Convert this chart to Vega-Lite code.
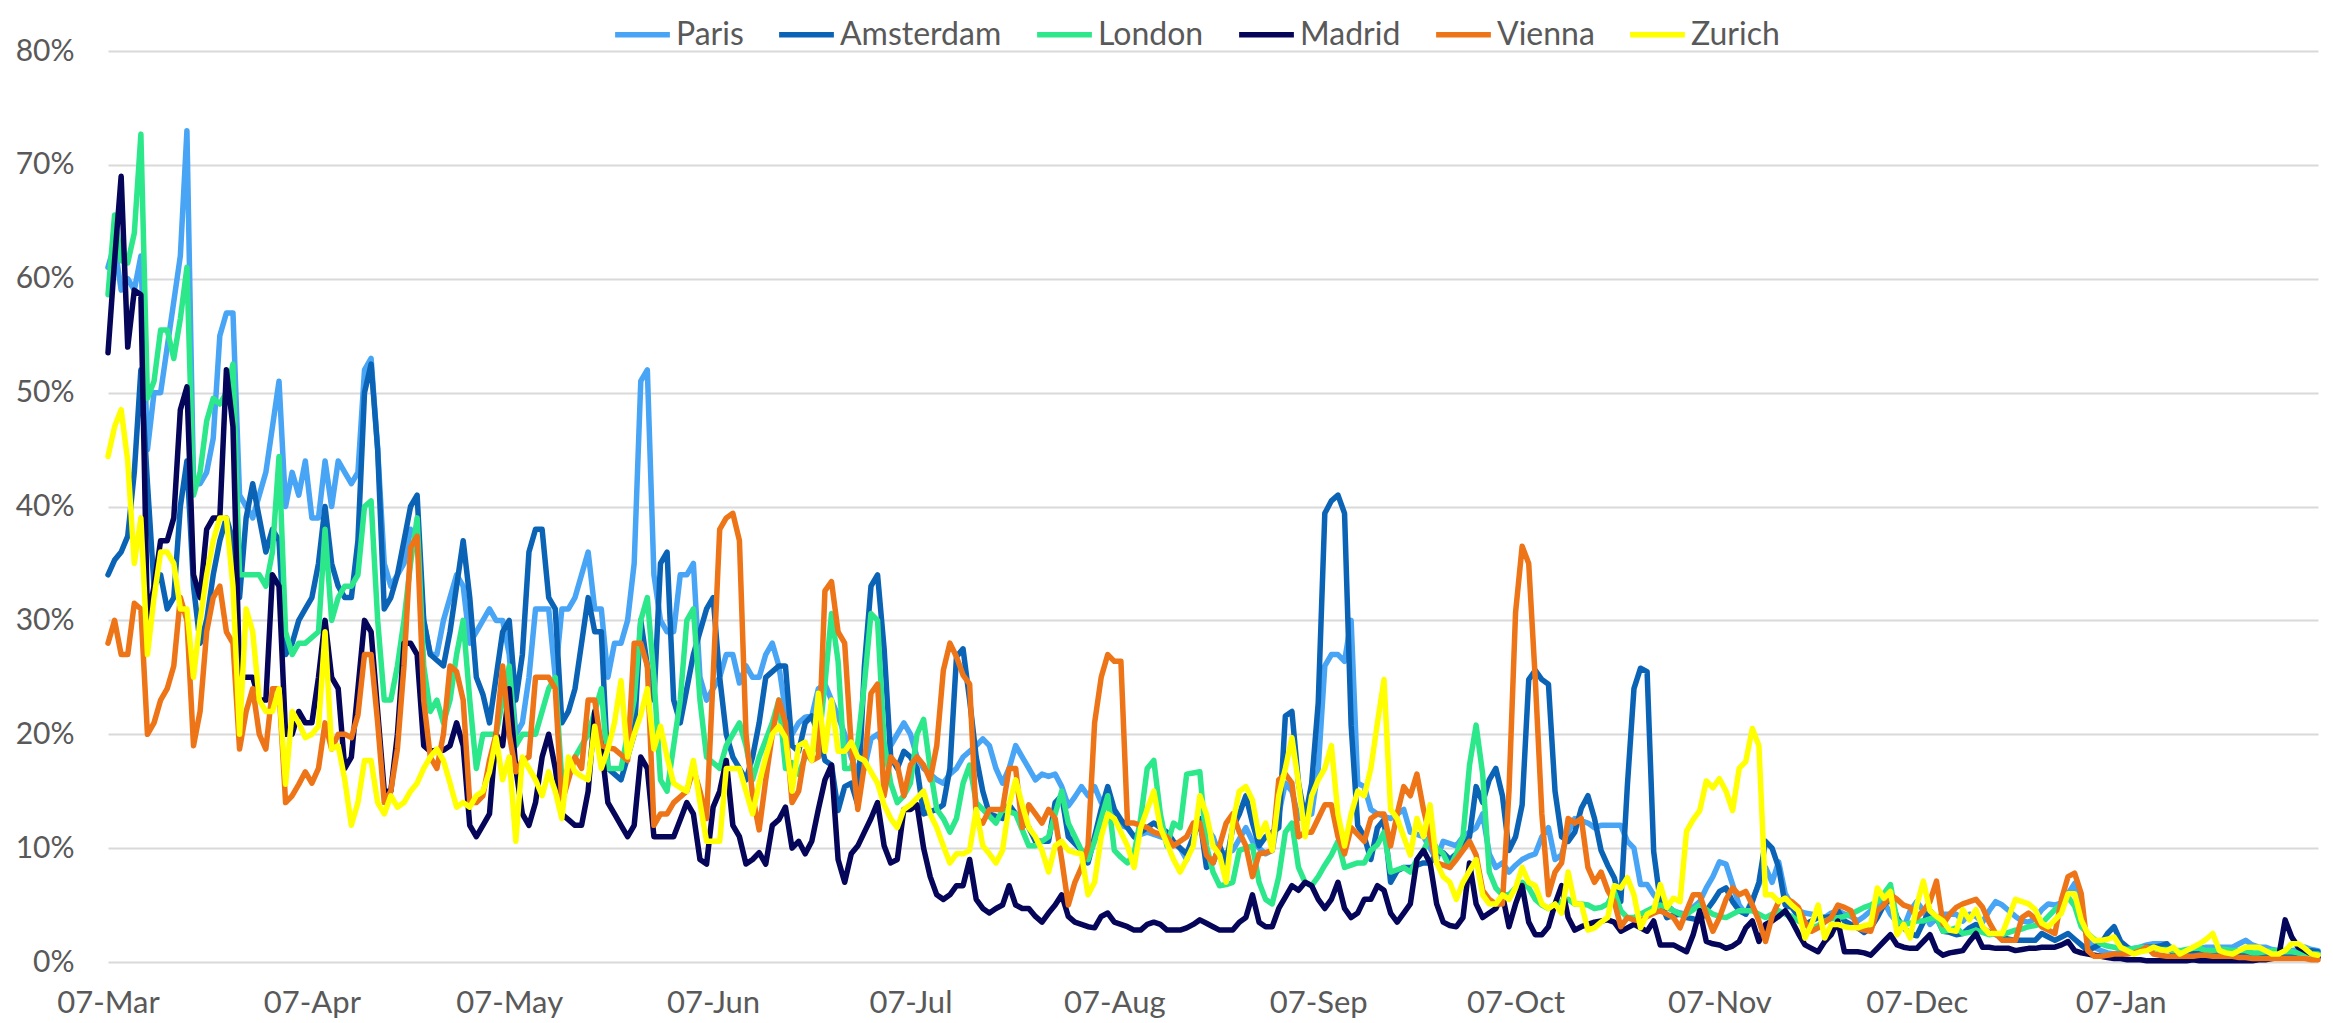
{
"$schema":"https://vega.github.io/schema/vega-lite/v6.json",
"width":2210,"height":911,
"autosize":{"type":"none"},
"padding":{"left":108,"top":51,"right":15,"bottom":61},
"background":"white",
"config":{"view":{"stroke":null},"font":"Lato"},
"data":{"values":[
{"d":"2020-03-07","Paris":61,"Amsterdam":34,"London":58.6,"Madrid":53.5,"Vienna":28,"Zurich":44.4},
{"d":"2020-03-08","Paris":63,"Amsterdam":35.3,"London":65.6,"Madrid":61.6,"Vienna":30,"Zurich":47},
{"d":"2020-03-09","Paris":59,"Amsterdam":36,"London":61.6,"Madrid":69,"Vienna":27,"Zurich":48.5},
{"d":"2020-03-10","Paris":60,"Amsterdam":37.4,"London":61.4,"Madrid":54,"Vienna":27,"Zurich":44},
{"d":"2020-03-11","Paris":59,"Amsterdam":43,"London":64,"Madrid":59,"Vienna":31.5,"Zurich":35},
{"d":"2020-03-12","Paris":62,"Amsterdam":52,"London":72.7,"Madrid":58.6,"Vienna":31,"Zurich":39},
{"d":"2020-03-13","Paris":45,"Amsterdam":42,"London":49.5,"Madrid":30,"Vienna":20,"Zurich":27},
{"d":"2020-03-14","Paris":50,"Amsterdam":33,"London":51,"Madrid":33,"Vienna":21,"Zurich":32},
{"d":"2020-03-15","Paris":50,"Amsterdam":34,"London":55.5,"Madrid":37,"Vienna":23,"Zurich":36},
{"d":"2020-03-16","Paris":54,"Amsterdam":31,"London":55.5,"Madrid":37,"Vienna":24,"Zurich":36},
{"d":"2020-03-17","Paris":58,"Amsterdam":32,"London":53,"Madrid":39,"Vienna":26,"Zurich":35},
{"d":"2020-03-18","Paris":62,"Amsterdam":40,"London":56.5,"Madrid":48.5,"Vienna":32,"Zurich":31},
{"d":"2020-03-19","Paris":73,"Amsterdam":44,"London":61,"Madrid":50.5,"Vienna":30,"Zurich":31},
{"d":"2020-03-20","Paris":42,"Amsterdam":33,"London":41,"Madrid":34,"Vienna":19,"Zurich":25},
{"d":"2020-03-21","Paris":42,"Amsterdam":28,"London":43,"Madrid":32,"Vienna":22,"Zurich":30},
{"d":"2020-03-22","Paris":43,"Amsterdam":30,"London":47.5,"Madrid":38,"Vienna":29,"Zurich":34},
{"d":"2020-03-23","Paris":46,"Amsterdam":34,"London":49.5,"Madrid":39,"Vienna":32,"Zurich":37},
{"d":"2020-03-24","Paris":55,"Amsterdam":37,"London":49,"Madrid":39,"Vienna":33,"Zurich":39},
{"d":"2020-03-25","Paris":57,"Amsterdam":39,"London":50,"Madrid":52,"Vienna":29,"Zurich":39},
{"d":"2020-03-26","Paris":57,"Amsterdam":37,"London":52.5,"Madrid":47,"Vienna":28,"Zurich":33},
{"d":"2020-03-27","Paris":41,"Amsterdam":32,"London":34,"Madrid":25,"Vienna":18.7,"Zurich":20},
{"d":"2020-03-28","Paris":40,"Amsterdam":39,"London":34,"Madrid":25,"Vienna":22,"Zurich":31},
{"d":"2020-03-29","Paris":39,"Amsterdam":42,"London":34,"Madrid":25,"Vienna":24,"Zurich":29},
{"d":"2020-03-30","Paris":41,"Amsterdam":39,"London":34,"Madrid":23,"Vienna":20,"Zurich":23},
{"d":"2020-03-31","Paris":43,"Amsterdam":36,"London":33,"Madrid":23,"Vienna":18.7,"Zurich":22},
{"d":"2020-04-01","Paris":47,"Amsterdam":38,"London":36,"Madrid":34,"Vienna":24,"Zurich":22},
{"d":"2020-04-02","Paris":51,"Amsterdam":37,"London":44.4,"Madrid":33,"Vienna":24,"Zurich":24},
{"d":"2020-04-03","Paris":40,"Amsterdam":27,"London":29,"Madrid":20,"Vienna":14,"Zurich":15.6},
{"d":"2020-04-04","Paris":43,"Amsterdam":28,"London":27,"Madrid":20,"Vienna":14.6,"Zurich":22},
{"d":"2020-04-05","Paris":41,"Amsterdam":30,"London":28,"Madrid":22,"Vienna":15.6,"Zurich":21},
{"d":"2020-04-06","Paris":44,"Amsterdam":31,"London":28,"Madrid":21,"Vienna":16.7,"Zurich":19.7},
{"d":"2020-04-07","Paris":39,"Amsterdam":32,"London":28.5,"Madrid":21,"Vienna":15.7,"Zurich":20},
{"d":"2020-04-08","Paris":39,"Amsterdam":35,"London":29,"Madrid":25,"Vienna":17,"Zurich":20.7},
{"d":"2020-04-09","Paris":44,"Amsterdam":40,"London":38,"Madrid":30,"Vienna":21,"Zurich":29},
{"d":"2020-04-10","Paris":40,"Amsterdam":35,"London":30,"Madrid":25,"Vienna":18.7,"Zurich":18.7},
{"d":"2020-04-11","Paris":44,"Amsterdam":33,"London":32,"Madrid":24,"Vienna":20,"Zurich":19},
{"d":"2020-04-12","Paris":43,"Amsterdam":32,"London":33,"Madrid":17,"Vienna":20,"Zurich":16},
{"d":"2020-04-13","Paris":42,"Amsterdam":32,"London":33,"Madrid":18,"Vienna":19.7,"Zurich":12},
{"d":"2020-04-14","Paris":43,"Amsterdam":37,"London":34,"Madrid":24,"Vienna":21.7,"Zurich":14},
{"d":"2020-04-15","Paris":52,"Amsterdam":50,"London":40,"Madrid":30,"Vienna":27,"Zurich":17.7},
{"d":"2020-04-16","Paris":53,"Amsterdam":52.5,"London":40.5,"Madrid":29,"Vienna":27,"Zurich":17.7},
{"d":"2020-04-17","Paris":45,"Amsterdam":45,"London":30,"Madrid":22,"Vienna":21,"Zurich":14},
{"d":"2020-04-18","Paris":35,"Amsterdam":31,"London":23,"Madrid":15,"Vienna":14,"Zurich":13},
{"d":"2020-04-19","Paris":33,"Amsterdam":32,"London":23,"Madrid":15,"Vienna":15,"Zurich":14.6},
{"d":"2020-04-20","Paris":34,"Amsterdam":34,"London":26,"Madrid":20,"Vienna":18.7,"Zurich":13.6},
{"d":"2020-04-21","Paris":35,"Amsterdam":37,"London":30,"Madrid":28,"Vienna":26,"Zurich":14},
{"d":"2020-04-22","Paris":38,"Amsterdam":40,"London":35,"Madrid":28,"Vienna":36.4,"Zurich":15},
{"d":"2020-04-23","Paris":37,"Amsterdam":41,"London":39,"Madrid":27,"Vienna":37.4,"Zurich":15.7},
{"d":"2020-04-24","Paris":30,"Amsterdam":30,"London":26,"Madrid":19,"Vienna":23,"Zurich":17},
{"d":"2020-04-25","Paris":27,"Amsterdam":27,"London":22,"Madrid":18.5,"Vienna":18,"Zurich":18},
{"d":"2020-04-26","Paris":27,"Amsterdam":26.5,"London":23,"Madrid":18.6,"Vienna":17,"Zurich":18.7},
{"d":"2020-04-27","Paris":30,"Amsterdam":26,"London":21,"Madrid":18.6,"Vienna":20,"Zurich":17.7},
{"d":"2020-04-28","Paris":32,"Amsterdam":29,"London":23,"Madrid":19,"Vienna":26,"Zurich":15.7},
{"d":"2020-04-29","Paris":34,"Amsterdam":33,"London":27,"Madrid":21,"Vienna":25.5,"Zurich":13.6},
{"d":"2020-04-30","Paris":33,"Amsterdam":37,"London":30,"Madrid":19,"Vienna":23,"Zurich":14},
{"d":"2020-05-01","Paris":28,"Amsterdam":32,"London":23,"Madrid":12,"Vienna":14,"Zurich":13.6},
{"d":"2020-05-02","Paris":29,"Amsterdam":25,"London":17,"Madrid":11,"Vienna":14,"Zurich":14.6},
{"d":"2020-05-03","Paris":30,"Amsterdam":23.5,"London":20,"Madrid":12,"Vienna":14.6,"Zurich":15},
{"d":"2020-05-04","Paris":31,"Amsterdam":21,"London":20,"Madrid":13,"Vienna":17.7,"Zurich":16.7},
{"d":"2020-05-05","Paris":30,"Amsterdam":25,"London":20,"Madrid":20,"Vienna":20,"Zurich":19.7},
{"d":"2020-05-06","Paris":30,"Amsterdam":29,"London":23,"Madrid":19,"Vienna":26,"Zurich":16},
{"d":"2020-05-07","Paris":27,"Amsterdam":30,"London":26,"Madrid":24,"Vienna":20,"Zurich":18},
{"d":"2020-05-08","Paris":20,"Amsterdam":23,"London":19,"Madrid":17,"Vienna":16.7,"Zurich":10.6},
{"d":"2020-05-09","Paris":21,"Amsterdam":27,"London":20,"Madrid":13,"Vienna":17.7,"Zurich":18},
{"d":"2020-05-10","Paris":25,"Amsterdam":36,"London":20,"Madrid":12,"Vienna":18,"Zurich":17},
{"d":"2020-05-11","Paris":31,"Amsterdam":38,"London":20,"Madrid":14,"Vienna":25,"Zurich":16},
{"d":"2020-05-12","Paris":31,"Amsterdam":38,"London":22,"Madrid":18,"Vienna":25,"Zurich":14.6},
{"d":"2020-05-13","Paris":31,"Amsterdam":32,"London":24,"Madrid":20,"Vienna":25,"Zurich":16.7},
{"d":"2020-05-14","Paris":25,"Amsterdam":31,"London":25,"Madrid":17,"Vienna":24,"Zurich":15},
{"d":"2020-05-15","Paris":31,"Amsterdam":21,"London":16,"Madrid":13,"Vienna":14,"Zurich":12.6},
{"d":"2020-05-16","Paris":31,"Amsterdam":22,"London":17,"Madrid":12.5,"Vienna":16,"Zurich":18},
{"d":"2020-05-17","Paris":32,"Amsterdam":24,"London":18,"Madrid":12,"Vienna":18,"Zurich":16.7},
{"d":"2020-05-18","Paris":34,"Amsterdam":28,"London":19,"Madrid":12,"Vienna":17,"Zurich":16.3},
{"d":"2020-05-19","Paris":36,"Amsterdam":32,"London":20,"Madrid":15,"Vienna":23,"Zurich":16},
{"d":"2020-05-20","Paris":31,"Amsterdam":29,"London":22,"Madrid":22,"Vienna":23,"Zurich":20.7},
{"d":"2020-05-21","Paris":31,"Amsterdam":29,"London":24,"Madrid":19,"Vienna":19,"Zurich":17},
{"d":"2020-05-22","Paris":25,"Amsterdam":17,"London":17,"Madrid":14,"Vienna":18.8,"Zurich":18.7},
{"d":"2020-05-23","Paris":28,"Amsterdam":16.5,"London":17,"Madrid":13,"Vienna":18.7,"Zurich":21},
{"d":"2020-05-24","Paris":28,"Amsterdam":16,"London":17,"Madrid":12,"Vienna":18.2,"Zurich":24.7},
{"d":"2020-05-25","Paris":30,"Amsterdam":18,"London":20,"Madrid":11,"Vienna":17.7,"Zurich":18},
{"d":"2020-05-26","Paris":35,"Amsterdam":20,"London":23,"Madrid":12,"Vienna":28,"Zurich":20},
{"d":"2020-05-27","Paris":51,"Amsterdam":30,"London":30,"Madrid":18,"Vienna":28,"Zurich":21.7},
{"d":"2020-05-28","Paris":52,"Amsterdam":26,"London":32,"Madrid":17,"Vienna":26,"Zurich":24},
{"d":"2020-05-29","Paris":34,"Amsterdam":23,"London":25,"Madrid":11,"Vienna":12,"Zurich":18.7},
{"d":"2020-05-30","Paris":30,"Amsterdam":35,"London":16,"Madrid":11,"Vienna":13,"Zurich":20.7},
{"d":"2020-05-31","Paris":29,"Amsterdam":36,"London":15,"Madrid":11,"Vienna":13,"Zurich":18},
{"d":"2020-06-01","Paris":29,"Amsterdam":23,"London":19,"Madrid":11,"Vienna":14,"Zurich":15.7},
{"d":"2020-06-02","Paris":34,"Amsterdam":21,"London":23,"Madrid":12.5,"Vienna":14.5,"Zurich":15.3},
{"d":"2020-06-03","Paris":34,"Amsterdam":24,"London":30,"Madrid":14,"Vienna":15,"Zurich":15},
{"d":"2020-06-04","Paris":35,"Amsterdam":27,"London":31,"Madrid":13,"Vienna":17,"Zurich":17.7},
{"d":"2020-06-05","Paris":25,"Amsterdam":29,"London":23,"Madrid":9,"Vienna":15,"Zurich":14},
{"d":"2020-06-06","Paris":23,"Amsterdam":31,"London":18,"Madrid":8.6,"Vienna":12.6,"Zurich":10.6},
{"d":"2020-06-07","Paris":24,"Amsterdam":32,"London":17.5,"Madrid":13.6,"Vienna":25,"Zurich":10.6},
{"d":"2020-06-08","Paris":25,"Amsterdam":25,"London":17,"Madrid":15,"Vienna":38,"Zurich":10.6},
{"d":"2020-06-09","Paris":27,"Amsterdam":20,"London":19,"Madrid":17.7,"Vienna":39,"Zurich":17},
{"d":"2020-06-10","Paris":27,"Amsterdam":18,"London":20,"Madrid":12,"Vienna":39.4,"Zurich":17},
{"d":"2020-06-11","Paris":24.5,"Amsterdam":17,"London":21,"Madrid":11,"Vienna":37,"Zurich":17},
{"d":"2020-06-12","Paris":26,"Amsterdam":16,"London":19,"Madrid":8.6,"Vienna":20,"Zurich":15},
{"d":"2020-06-13","Paris":25,"Amsterdam":18,"London":16,"Madrid":9,"Vienna":14.6,"Zurich":13},
{"d":"2020-06-14","Paris":25,"Amsterdam":21,"London":18,"Madrid":9.6,"Vienna":11.6,"Zurich":15.7},
{"d":"2020-06-15","Paris":27,"Amsterdam":25,"London":19.5,"Madrid":8.6,"Vienna":16,"Zurich":18},
{"d":"2020-06-16","Paris":28,"Amsterdam":25.5,"London":21,"Madrid":12,"Vienna":20,"Zurich":20},
{"d":"2020-06-17","Paris":26,"Amsterdam":26,"London":23,"Madrid":12.5,"Vienna":23,"Zurich":20.7},
{"d":"2020-06-18","Paris":22,"Amsterdam":26,"London":17,"Madrid":13.6,"Vienna":21,"Zurich":19.7},
{"d":"2020-06-19","Paris":20,"Amsterdam":19,"London":17.5,"Madrid":10,"Vienna":14,"Zurich":15},
{"d":"2020-06-20","Paris":21,"Amsterdam":18.5,"London":16.5,"Madrid":10.6,"Vienna":15,"Zurich":19},
{"d":"2020-06-21","Paris":21.5,"Amsterdam":21,"London":18,"Madrid":9.5,"Vienna":18.5,"Zurich":19.3},
{"d":"2020-06-22","Paris":21.6,"Amsterdam":21.6,"London":18.5,"Madrid":10.6,"Vienna":17.7,"Zurich":17.7},
{"d":"2020-06-23","Paris":24,"Amsterdam":20,"London":19,"Madrid":13.4,"Vienna":18,"Zurich":23.6},
{"d":"2020-06-24","Paris":24.4,"Amsterdam":17.7,"London":24.4,"Madrid":16,"Vienna":32.6,"Zurich":18.5},
{"d":"2020-06-25","Paris":23,"Amsterdam":17.3,"London":30.6,"Madrid":17.3,"Vienna":33.4,"Zurich":23},
{"d":"2020-06-26","Paris":21.6,"Amsterdam":13.3,"London":26.4,"Madrid":9,"Vienna":29,"Zurich":18.5},
{"d":"2020-06-27","Paris":20,"Amsterdam":15.4,"London":17,"Madrid":7,"Vienna":28,"Zurich":18.5},
{"d":"2020-06-28","Paris":18,"Amsterdam":15.7,"London":17,"Madrid":9.5,"Vienna":19,"Zurich":19.3},
{"d":"2020-06-29","Paris":16.5,"Amsterdam":13.8,"London":19.3,"Madrid":10.2,"Vienna":13.4,"Zurich":18},
{"d":"2020-06-30","Paris":17,"Amsterdam":26,"London":24.4,"Madrid":11.4,"Vienna":17.3,"Zurich":17.7},
{"d":"2020-07-01","Paris":19.6,"Amsterdam":33,"London":30.6,"Madrid":12.6,"Vienna":23.6,"Zurich":16.7},
{"d":"2020-07-02","Paris":20,"Amsterdam":34,"London":30,"Madrid":14,"Vienna":24.4,"Zurich":15.7},
{"d":"2020-07-03","Paris":19,"Amsterdam":27.5,"London":19.3,"Madrid":10.2,"Vienna":14.6,"Zurich":13.8},
{"d":"2020-07-04","Paris":19,"Amsterdam":18,"London":15.7,"Madrid":8.7,"Vienna":18,"Zurich":12.6},
{"d":"2020-07-05","Paris":20,"Amsterdam":17,"London":14,"Madrid":9,"Vienna":17.3,"Zurich":11.8},
{"d":"2020-07-06","Paris":21,"Amsterdam":18.5,"London":14.6,"Madrid":13.4,"Vienna":14.6,"Zurich":13.4},
{"d":"2020-07-07","Paris":20,"Amsterdam":18,"London":15.7,"Madrid":13.4,"Vienna":17.3,"Zurich":13.8},
{"d":"2020-07-08","Paris":18,"Amsterdam":17,"London":20,"Madrid":13.8,"Vienna":18,"Zurich":14.4},
{"d":"2020-07-09","Paris":17,"Amsterdam":13,"London":21.3,"Madrid":10,"Vienna":17.3,"Zurich":15},
{"d":"2020-07-10","Paris":16.5,"Amsterdam":13.2,"London":17,"Madrid":7.5,"Vienna":16,"Zurich":13},
{"d":"2020-07-11","Paris":16,"Amsterdam":13.4,"London":13.4,"Madrid":5.9,"Vienna":19,"Zurich":11.8},
{"d":"2020-07-12","Paris":15.7,"Amsterdam":13.8,"London":12.6,"Madrid":5.5,"Vienna":25.6,"Zurich":10.2},
{"d":"2020-07-13","Paris":16.5,"Amsterdam":17,"London":11.4,"Madrid":5.9,"Vienna":28,"Zurich":8.7},
{"d":"2020-07-14","Paris":17,"Amsterdam":26.8,"London":12.6,"Madrid":6.7,"Vienna":26.8,"Zurich":9.5},
{"d":"2020-07-15","Paris":18,"Amsterdam":27.5,"London":15.7,"Madrid":6.7,"Vienna":25.2,"Zurich":9.5},
{"d":"2020-07-16","Paris":18.5,"Amsterdam":23,"London":17.3,"Madrid":9,"Vienna":24.4,"Zurich":9.8},
{"d":"2020-07-17","Paris":19,"Amsterdam":18,"London":14,"Madrid":5.5,"Vienna":12.6,"Zurich":13.4},
{"d":"2020-07-18","Paris":19.6,"Amsterdam":15,"London":13.4,"Madrid":4.7,"Vienna":12.2,"Zurich":10.2},
{"d":"2020-07-19","Paris":19,"Amsterdam":13,"London":12.8,"Madrid":4.3,"Vienna":13.4,"Zurich":9.5},
{"d":"2020-07-20","Paris":17,"Amsterdam":12.8,"London":12.2,"Madrid":4.7,"Vienna":13.4,"Zurich":8.7},
{"d":"2020-07-21","Paris":15.7,"Amsterdam":12.6,"London":13.4,"Madrid":5,"Vienna":13.4,"Zurich":9.8},
{"d":"2020-07-22","Paris":17,"Amsterdam":13.8,"London":13.2,"Madrid":6.7,"Vienna":17,"Zurich":13.8},
{"d":"2020-07-23","Paris":19,"Amsterdam":13,"London":13,"Madrid":5,"Vienna":17,"Zurich":16},
{"d":"2020-07-24","Paris":18,"Amsterdam":12.6,"London":11.6,"Madrid":4.7,"Vienna":11.8,"Zurich":13.8},
{"d":"2020-07-25","Paris":17,"Amsterdam":11.8,"London":10.2,"Madrid":4.7,"Vienna":13.8,"Zurich":11.8},
{"d":"2020-07-26","Paris":16,"Amsterdam":10.6,"London":10.2,"Madrid":4,"Vienna":13,"Zurich":11},
{"d":"2020-07-27","Paris":16.5,"Amsterdam":10.6,"London":10.6,"Madrid":3.5,"Vienna":12.2,"Zurich":9.8},
{"d":"2020-07-28","Paris":16.3,"Amsterdam":10.6,"London":11,"Madrid":4.3,"Vienna":13.4,"Zurich":7.9},
{"d":"2020-07-29","Paris":16.5,"Amsterdam":14,"London":13,"Madrid":5,"Vienna":12.6,"Zurich":10.2},
{"d":"2020-07-30","Paris":15.4,"Amsterdam":14.6,"London":15,"Madrid":5.9,"Vienna":9,"Zurich":10.6},
{"d":"2020-07-31","Paris":13.7,"Amsterdam":11,"London":12.2,"Madrid":4,"Vienna":5,"Zurich":9.8},
{"d":"2020-08-01","Paris":14.5,"Amsterdam":10.4,"London":11,"Madrid":3.5,"Vienna":7,"Zurich":9.6},
{"d":"2020-08-02","Paris":15.4,"Amsterdam":9.8,"London":9.8,"Madrid":3.3,"Vienna":8.3,"Zurich":9.5},
{"d":"2020-08-03","Paris":14.6,"Amsterdam":8.7,"London":9,"Madrid":3.1,"Vienna":10.2,"Zurich":5.9},
{"d":"2020-08-04","Paris":15.4,"Amsterdam":11,"London":10.6,"Madrid":3,"Vienna":21,"Zurich":7},
{"d":"2020-08-05","Paris":14,"Amsterdam":13.4,"London":12.6,"Madrid":4,"Vienna":25,"Zurich":11},
{"d":"2020-08-06","Paris":14.6,"Amsterdam":15.4,"London":14.6,"Madrid":4.3,"Vienna":27,"Zurich":13},
{"d":"2020-08-07","Paris":12.6,"Amsterdam":13.4,"London":9.8,"Madrid":3.5,"Vienna":26.4,"Zurich":12.6},
{"d":"2020-08-08","Paris":12,"Amsterdam":12.5,"London":9.2,"Madrid":3.3,"Vienna":26.4,"Zurich":11.4},
{"d":"2020-08-09","Paris":11.8,"Amsterdam":11.8,"London":8.7,"Madrid":3.1,"Vienna":12.2,"Zurich":10.2},
{"d":"2020-08-10","Paris":11,"Amsterdam":11,"London":9.5,"Madrid":2.8,"Vienna":12.2,"Zurich":8.3},
{"d":"2020-08-11","Paris":11.2,"Amsterdam":11.4,"London":12.6,"Madrid":2.8,"Vienna":12,"Zurich":11.8},
{"d":"2020-08-12","Paris":11.4,"Amsterdam":11.8,"London":17,"Madrid":3.3,"Vienna":11.8,"Zurich":13.4},
{"d":"2020-08-13","Paris":11.2,"Amsterdam":12.2,"London":17.7,"Madrid":3.5,"Vienna":11.4,"Zurich":15},
{"d":"2020-08-14","Paris":11,"Amsterdam":11.8,"London":13,"Madrid":3.3,"Vienna":11.2,"Zurich":11.8},
{"d":"2020-08-15","Paris":10.8,"Amsterdam":11.4,"London":10.2,"Madrid":2.8,"Vienna":11,"Zurich":10.4},
{"d":"2020-08-16","Paris":10.4,"Amsterdam":10.6,"London":12.2,"Madrid":2.8,"Vienna":10.2,"Zurich":9},
{"d":"2020-08-17","Paris":10,"Amsterdam":10,"London":11.8,"Madrid":2.8,"Vienna":10.6,"Zurich":7.9},
{"d":"2020-08-18","Paris":9,"Amsterdam":9.5,"London":16.5,"Madrid":3,"Vienna":11,"Zurich":9},
{"d":"2020-08-19","Paris":10.8,"Amsterdam":11,"London":16.6,"Madrid":3.3,"Vienna":12.2,"Zurich":10.2},
{"d":"2020-08-20","Paris":12.6,"Amsterdam":12.6,"London":16.7,"Madrid":3.7,"Vienna":12.2,"Zurich":14.6},
{"d":"2020-08-21","Paris":11.8,"Amsterdam":8.3,"London":10.2,"Madrid":3.4,"Vienna":9.4,"Zurich":13},
{"d":"2020-08-22","Paris":11,"Amsterdam":8.7,"London":7.9,"Madrid":3.1,"Vienna":8.7,"Zurich":10.2},
{"d":"2020-08-23","Paris":9.4,"Amsterdam":10.2,"London":6.7,"Madrid":2.8,"Vienna":10.2,"Zurich":9.4},
{"d":"2020-08-24","Paris":9.6,"Amsterdam":8.7,"London":6.8,"Madrid":2.8,"Vienna":12.2,"Zurich":7},
{"d":"2020-08-25","Paris":9.8,"Amsterdam":11.8,"London":7,"Madrid":2.8,"Vienna":13,"Zurich":12.2},
{"d":"2020-08-26","Paris":10.8,"Amsterdam":13,"London":9.8,"Madrid":3.5,"Vienna":11.4,"Zurich":15},
{"d":"2020-08-27","Paris":11.8,"Amsterdam":14.6,"London":10,"Madrid":3.9,"Vienna":10.2,"Zurich":15.4},
{"d":"2020-08-28","Paris":10.6,"Amsterdam":12.2,"London":10.2,"Madrid":5.9,"Vienna":7.5,"Zurich":14.2},
{"d":"2020-08-29","Paris":10,"Amsterdam":10.2,"London":7,"Madrid":3.5,"Vienna":9.5,"Zurich":11},
{"d":"2020-08-30","Paris":9.5,"Amsterdam":11,"London":5.5,"Madrid":3.1,"Vienna":9.6,"Zurich":12.2},
{"d":"2020-08-31","Paris":9.8,"Amsterdam":11.4,"London":5.1,"Madrid":3.1,"Vienna":9.8,"Zurich":9.8},
{"d":"2020-09-01","Paris":13,"Amsterdam":11.8,"London":7.5,"Madrid":4.7,"Vienna":16,"Zurich":14.6},
{"d":"2020-09-02","Paris":15.7,"Amsterdam":21.6,"London":11.4,"Madrid":5.7,"Vienna":16.5,"Zurich":17},
{"d":"2020-09-03","Paris":15,"Amsterdam":22,"London":12.2,"Madrid":6.7,"Vienna":15.7,"Zurich":19.7},
{"d":"2020-09-04","Paris":12.6,"Amsterdam":15.7,"London":8.3,"Madrid":6.3,"Vienna":11,"Zurich":15.7},
{"d":"2020-09-05","Paris":12.8,"Amsterdam":12.6,"London":7,"Madrid":7,"Vienna":11.4,"Zurich":11},
{"d":"2020-09-06","Paris":13,"Amsterdam":15.7,"London":6.7,"Madrid":6.7,"Vienna":11.4,"Zurich":14.6},
{"d":"2020-09-07","Paris":17,"Amsterdam":22.8,"London":7.5,"Madrid":5.5,"Vienna":12.6,"Zurich":16},
{"d":"2020-09-08","Paris":26,"Amsterdam":39.4,"London":8.5,"Madrid":4.7,"Vienna":13.8,"Zurich":17},
{"d":"2020-09-09","Paris":27,"Amsterdam":40.5,"London":9.4,"Madrid":5.5,"Vienna":13.8,"Zurich":19},
{"d":"2020-09-10","Paris":27,"Amsterdam":41,"London":10.6,"Madrid":7,"Vienna":11,"Zurich":13},
{"d":"2020-09-11","Paris":26.4,"Amsterdam":39.4,"London":8.3,"Madrid":4.7,"Vienna":9.5,"Zurich":10.2},
{"d":"2020-09-12","Paris":30,"Amsterdam":20.8,"London":8.5,"Madrid":3.9,"Vienna":11.8,"Zurich":13},
{"d":"2020-09-13","Paris":15.7,"Amsterdam":12,"London":8.7,"Madrid":4.3,"Vienna":11.2,"Zurich":15},
{"d":"2020-09-14","Paris":15.4,"Amsterdam":11,"London":8.7,"Madrid":5.5,"Vienna":10.6,"Zurich":14.6},
{"d":"2020-09-15","Paris":13.4,"Amsterdam":9,"London":9.8,"Madrid":5.5,"Vienna":12.6,"Zurich":17},
{"d":"2020-09-16","Paris":13,"Amsterdam":11.8,"London":10.3,"Madrid":6.7,"Vienna":13,"Zurich":21},
{"d":"2020-09-17","Paris":12.8,"Amsterdam":12.5,"London":11.4,"Madrid":6.3,"Vienna":13,"Zurich":24.8},
{"d":"2020-09-18","Paris":12.6,"Amsterdam":7,"London":7.9,"Madrid":4.3,"Vienna":10.2,"Zurich":13.4},
{"d":"2020-09-19","Paris":13,"Amsterdam":8,"London":8.1,"Madrid":3.5,"Vienna":13,"Zurich":12.6},
{"d":"2020-09-20","Paris":13.4,"Amsterdam":8.3,"London":8.3,"Madrid":4.3,"Vienna":15.4,"Zurich":11},
{"d":"2020-09-21","Paris":11.4,"Amsterdam":8.3,"London":7.9,"Madrid":5.1,"Vienna":14.6,"Zurich":9.4},
{"d":"2020-09-22","Paris":11.2,"Amsterdam":8.5,"London":9,"Madrid":9,"Vienna":16.5,"Zurich":12.6},
{"d":"2020-09-23","Paris":11,"Amsterdam":8.7,"London":9.8,"Madrid":9.8,"Vienna":13.4,"Zurich":11},
{"d":"2020-09-24","Paris":10,"Amsterdam":8.7,"London":11,"Madrid":8.7,"Vienna":11,"Zurich":13.8},
{"d":"2020-09-25","Paris":9,"Amsterdam":9.5,"London":10,"Madrid":5.1,"Vienna":8.7,"Zurich":8.7},
{"d":"2020-09-26","Paris":10.6,"Amsterdam":9.6,"London":9.5,"Madrid":3.5,"Vienna":8.5,"Zurich":7.5},
{"d":"2020-09-27","Paris":10.4,"Amsterdam":9,"London":8.3,"Madrid":3.2,"Vienna":8.3,"Zurich":7},
{"d":"2020-09-28","Paris":10.2,"Amsterdam":9.5,"London":9.5,"Madrid":3.1,"Vienna":9,"Zurich":5.5},
{"d":"2020-09-29","Paris":11,"Amsterdam":10,"London":11,"Madrid":3.9,"Vienna":9.8,"Zurich":7},
{"d":"2020-09-30","Paris":11.4,"Amsterdam":11,"London":17.3,"Madrid":8.7,"Vienna":10.6,"Zurich":8},
{"d":"2020-10-01","Paris":11.8,"Amsterdam":15.4,"London":20.8,"Madrid":5.1,"Vienna":9.4,"Zurich":9},
{"d":"2020-10-02","Paris":13,"Amsterdam":14,"London":16.5,"Madrid":3.9,"Vienna":6.3,"Zurich":5.9},
{"d":"2020-10-03","Paris":9.5,"Amsterdam":16,"London":7.9,"Madrid":4.3,"Vienna":5.5,"Zurich":5.1},
{"d":"2020-10-04","Paris":8.3,"Amsterdam":17,"London":6.5,"Madrid":4.7,"Vienna":5.1,"Zurich":5.1},
{"d":"2020-10-05","Paris":8.7,"Amsterdam":14.6,"London":5.9,"Madrid":5.9,"Vienna":5.1,"Zurich":5.9},
{"d":"2020-10-06","Paris":7.9,"Amsterdam":9.8,"London":5.9,"Madrid":3.1,"Vienna":15,"Zurich":5.5},
{"d":"2020-10-07","Paris":8.5,"Amsterdam":11,"London":6.5,"Madrid":5.1,"Vienna":30.7,"Zurich":6.5},
{"d":"2020-10-08","Paris":9,"Amsterdam":13.8,"London":7,"Madrid":6.7,"Vienna":36.5,"Zurich":8.3},
{"d":"2020-10-09","Paris":9.3,"Amsterdam":24.8,"London":6.5,"Madrid":3.5,"Vienna":35,"Zurich":7},
{"d":"2020-10-10","Paris":9.5,"Amsterdam":25.6,"London":5.5,"Madrid":2.4,"Vienna":24.8,"Zurich":6.7},
{"d":"2020-10-11","Paris":11,"Amsterdam":24.8,"London":5,"Madrid":2.4,"Vienna":13,"Zurich":5.1},
{"d":"2020-10-12","Paris":11.8,"Amsterdam":24.4,"London":4.7,"Madrid":3.1,"Vienna":5.9,"Zurich":4.7},
{"d":"2020-10-13","Paris":9,"Amsterdam":15,"London":5.1,"Madrid":5.1,"Vienna":7.9,"Zurich":5.1},
{"d":"2020-10-14","Paris":9.4,"Amsterdam":11,"London":5.3,"Madrid":6.7,"Vienna":8.7,"Zurich":4.3},
{"d":"2020-10-15","Paris":11.4,"Amsterdam":10.6,"London":5.5,"Madrid":3.9,"Vienna":12.6,"Zurich":7.9},
{"d":"2020-10-16","Paris":12.6,"Amsterdam":11.4,"London":5.1,"Madrid":2.8,"Vienna":12.2,"Zurich":5.1},
{"d":"2020-10-17","Paris":12.4,"Amsterdam":13.5,"London":5.1,"Madrid":3.1,"Vienna":12.6,"Zurich":5.1},
{"d":"2020-10-18","Paris":12.2,"Amsterdam":14.6,"London":5,"Madrid":3.3,"Vienna":8.3,"Zurich":2.8},
{"d":"2020-10-19","Paris":11.8,"Amsterdam":12.6,"London":4.7,"Madrid":3.5,"Vienna":7,"Zurich":3},
{"d":"2020-10-20","Paris":12,"Amsterdam":9.8,"London":4.8,"Madrid":3.6,"Vienna":7.9,"Zurich":3.5},
{"d":"2020-10-21","Paris":12,"Amsterdam":8.5,"London":5.1,"Madrid":3.7,"Vienna":6.3,"Zurich":3.9},
{"d":"2020-10-22","Paris":12,"Amsterdam":7.4,"London":6.2,"Madrid":3.5,"Vienna":5.3,"Zurich":6.7},
{"d":"2020-10-23","Paris":12,"Amsterdam":5.3,"London":4.5,"Madrid":2.7,"Vienna":3.1,"Zurich":6.5},
{"d":"2020-10-24","Paris":10.6,"Amsterdam":15.5,"London":3.9,"Madrid":3,"Vienna":3.9,"Zurich":7.4},
{"d":"2020-10-25","Paris":10,"Amsterdam":24,"London":3.9,"Madrid":3.3,"Vienna":3.7,"Zurich":5.9},
{"d":"2020-10-26","Paris":6.8,"Amsterdam":25.8,"London":4.2,"Madrid":3,"Vienna":3.6,"Zurich":3},
{"d":"2020-10-27","Paris":6.8,"Amsterdam":25.5,"London":4.5,"Madrid":2.7,"Vienna":4,"Zurich":4.2},
{"d":"2020-10-28","Paris":5.9,"Amsterdam":9.7,"London":4.8,"Madrid":3.6,"Vienna":4.3,"Zurich":4.5},
{"d":"2020-10-29","Paris":5.3,"Amsterdam":5.3,"London":5,"Madrid":1.5,"Vienna":4.5,"Zurich":6.8},
{"d":"2020-10-30","Paris":5,"Amsterdam":3.9,"London":4.8,"Madrid":1.5,"Vienna":4.2,"Zurich":4.8},
{"d":"2020-10-31","Paris":4.5,"Amsterdam":4.1,"London":4.5,"Madrid":1.5,"Vienna":3.9,"Zurich":5.6},
{"d":"2020-11-01","Paris":4.3,"Amsterdam":4.2,"London":4.2,"Madrid":1.2,"Vienna":3,"Zurich":5.3},
{"d":"2020-11-02","Paris":4.2,"Amsterdam":3.9,"London":4.2,"Madrid":0.9,"Vienna":4.5,"Zurich":11.5},
{"d":"2020-11-03","Paris":4.8,"Amsterdam":3.8,"London":4.6,"Madrid":2.4,"Vienna":5.9,"Zurich":12.5},
{"d":"2020-11-04","Paris":5.3,"Amsterdam":3.6,"London":5,"Madrid":4.5,"Vienna":5.9,"Zurich":13.3},
{"d":"2020-11-05","Paris":6.5,"Amsterdam":4.5,"London":4.6,"Madrid":1.8,"Vienna":4.2,"Zurich":15.9},
{"d":"2020-11-06","Paris":7.5,"Amsterdam":5.3,"London":4.2,"Madrid":1.6,"Vienna":2.7,"Zurich":15.3},
{"d":"2020-11-07","Paris":8.8,"Amsterdam":6.2,"London":4,"Madrid":1.5,"Vienna":3.9,"Zurich":16.1},
{"d":"2020-11-08","Paris":8.6,"Amsterdam":6.5,"London":3.9,"Madrid":1.2,"Vienna":5.5,"Zurich":15},
{"d":"2020-11-09","Paris":6.8,"Amsterdam":5.3,"London":4.2,"Madrid":1.4,"Vienna":6.5,"Zurich":13.3},
{"d":"2020-11-10","Paris":5,"Amsterdam":4.5,"London":4.5,"Madrid":1.8,"Vienna":5.9,"Zurich":17},
{"d":"2020-11-11","Paris":4.2,"Amsterdam":4.2,"London":4.5,"Madrid":3,"Vienna":6.2,"Zurich":17.6},
{"d":"2020-11-12","Paris":5.5,"Amsterdam":5.3,"London":4.5,"Madrid":3.6,"Vienna":5,"Zurich":20.5},
{"d":"2020-11-13","Paris":6.8,"Amsterdam":7,"London":4.2,"Madrid":1.8,"Vienna":3.6,"Zurich":19},
{"d":"2020-11-14","Paris":8.3,"Amsterdam":10.6,"London":3.9,"Madrid":3.3,"Vienna":1.8,"Zurich":5.9},
{"d":"2020-11-15","Paris":7,"Amsterdam":10,"London":4.2,"Madrid":3.6,"Vienna":4,"Zurich":5.9},
{"d":"2020-11-16","Paris":8.8,"Amsterdam":8.3,"London":4.5,"Madrid":4,"Vienna":5.3,"Zurich":5.3},
{"d":"2020-11-17","Paris":6,"Amsterdam":5,"London":4.2,"Madrid":4.5,"Vienna":5.6,"Zurich":5.6},
{"d":"2020-11-18","Paris":5,"Amsterdam":4.8,"London":4,"Madrid":3.6,"Vienna":5.3,"Zurich":5},
{"d":"2020-11-19","Paris":4.5,"Amsterdam":4,"London":3.6,"Madrid":2.5,"Vienna":4.8,"Zurich":4.5},
{"d":"2020-11-20","Paris":4.3,"Amsterdam":3.3,"London":3.3,"Madrid":1.5,"Vienna":3.5,"Zurich":2.1},
{"d":"2020-11-21","Paris":4.2,"Amsterdam":3.6,"London":3,"Madrid":1.2,"Vienna":2.7,"Zurich":3.3},
{"d":"2020-11-22","Paris":4,"Amsterdam":3.9,"London":3.2,"Madrid":0.9,"Vienna":3,"Zurich":5},
{"d":"2020-11-23","Paris":3.9,"Amsterdam":3.9,"London":3.6,"Madrid":1.8,"Vienna":3.5,"Zurich":2.1},
{"d":"2020-11-24","Paris":4.3,"Amsterdam":4,"London":3.8,"Madrid":2.4,"Vienna":3.9,"Zurich":3.3},
{"d":"2020-11-25","Paris":4.5,"Amsterdam":4.5,"London":3.9,"Madrid":3.6,"Vienna":5,"Zurich":3.3},
{"d":"2020-11-26","Paris":4.2,"Amsterdam":3.6,"London":4,"Madrid":0.9,"Vienna":4.8,"Zurich":3.1},
{"d":"2020-11-27","Paris":4,"Amsterdam":3.3,"London":4.2,"Madrid":0.9,"Vienna":4.5,"Zurich":3},
{"d":"2020-11-28","Paris":3.6,"Amsterdam":3,"London":4.5,"Madrid":0.9,"Vienna":3,"Zurich":3},
{"d":"2020-11-29","Paris":4,"Amsterdam":2.6,"London":4.8,"Madrid":0.8,"Vienna":2.8,"Zurich":3.2},
{"d":"2020-11-30","Paris":4.5,"Amsterdam":3,"London":5,"Madrid":0.6,"Vienna":2.7,"Zurich":3.3},
{"d":"2020-12-01","Paris":5,"Amsterdam":3.9,"London":5.3,"Madrid":1.2,"Vienna":4.5,"Zurich":6.5},
{"d":"2020-12-02","Paris":5.3,"Amsterdam":5,"London":6,"Madrid":1.8,"Vienna":5,"Zurich":5.6},
{"d":"2020-12-03","Paris":4.2,"Amsterdam":5.6,"London":6.8,"Madrid":2.4,"Vienna":5.9,"Zurich":6.2},
{"d":"2020-12-04","Paris":3.5,"Amsterdam":3.9,"London":3.6,"Madrid":1.5,"Vienna":5.5,"Zurich":2.4},
{"d":"2020-12-05","Paris":3,"Amsterdam":3,"London":3.3,"Madrid":1.3,"Vienna":5,"Zurich":3.3},
{"d":"2020-12-06","Paris":4.5,"Amsterdam":2.5,"London":3.4,"Madrid":1.2,"Vienna":4.8,"Zurich":2.1},
{"d":"2020-12-07","Paris":5.3,"Amsterdam":2.3,"London":3.6,"Madrid":1.2,"Vienna":3.9,"Zurich":5},
{"d":"2020-12-08","Paris":4.5,"Amsterdam":3.5,"London":3.6,"Madrid":1.8,"Vienna":4.5,"Zurich":7.1},
{"d":"2020-12-09","Paris":3.3,"Amsterdam":4.5,"London":3.8,"Madrid":2.4,"Vienna":5.3,"Zurich":4.5},
{"d":"2020-12-10","Paris":3.8,"Amsterdam":3.9,"London":3.9,"Madrid":1,"Vienna":7.1,"Zurich":4},
{"d":"2020-12-11","Paris":4.2,"Amsterdam":2.7,"London":2.7,"Madrid":0.6,"Vienna":3.3,"Zurich":3.6},
{"d":"2020-12-12","Paris":4.2,"Amsterdam":2.6,"London":2.8,"Madrid":0.8,"Vienna":4.2,"Zurich":2.8},
{"d":"2020-12-13","Paris":4.2,"Amsterdam":2.4,"London":3,"Madrid":0.9,"Vienna":4.8,"Zurich":2.7},
{"d":"2020-12-14","Paris":3.6,"Amsterdam":2.5,"London":2.5,"Madrid":1,"Vienna":5.1,"Zurich":4.6},
{"d":"2020-12-15","Paris":4.2,"Amsterdam":3,"London":2.6,"Madrid":1.8,"Vienna":5.3,"Zurich":3.7},
{"d":"2020-12-16","Paris":4,"Amsterdam":3.3,"London":2.8,"Madrid":2.5,"Vienna":5.5,"Zurich":4.6},
{"d":"2020-12-17","Paris":3.5,"Amsterdam":3,"London":2.6,"Madrid":1.3,"Vienna":4.8,"Zurich":3.1},
{"d":"2020-12-18","Paris":4.5,"Amsterdam":2.6,"London":2.4,"Madrid":1.3,"Vienna":3.5,"Zurich":2.5},
{"d":"2020-12-19","Paris":5.3,"Amsterdam":2.4,"London":2.5,"Madrid":1.2,"Vienna":2.5,"Zurich":2.5},
{"d":"2020-12-20","Paris":5,"Amsterdam":2.2,"London":2.4,"Madrid":1.2,"Vienna":1.9,"Zurich":2.5},
{"d":"2020-12-21","Paris":4.5,"Amsterdam":2,"London":2.6,"Madrid":1.2,"Vienna":1.9,"Zurich":4},
{"d":"2020-12-22","Paris":4,"Amsterdam":1.9,"London":2.8,"Madrid":1,"Vienna":1.9,"Zurich":5.5},
{"d":"2020-12-23","Paris":3.6,"Amsterdam":1.9,"London":2.9,"Madrid":1.1,"Vienna":3.9,"Zurich":5.3},
{"d":"2020-12-24","Paris":3.5,"Amsterdam":1.9,"London":3.1,"Madrid":1.2,"Vienna":4.3,"Zurich":5.1},
{"d":"2020-12-25","Paris":3.8,"Amsterdam":1.9,"London":3.2,"Madrid":1.2,"Vienna":3.8,"Zurich":4.6},
{"d":"2020-12-26","Paris":4.6,"Amsterdam":2.5,"London":3.4,"Madrid":1.3,"Vienna":3.1,"Zurich":3.4},
{"d":"2020-12-27","Paris":5.1,"Amsterdam":2.2,"London":4,"Madrid":1.3,"Vienna":2.8,"Zurich":3.1},
{"d":"2020-12-28","Paris":5,"Amsterdam":1.9,"London":4.6,"Madrid":1.3,"Vienna":2.5,"Zurich":3.7},
{"d":"2020-12-29","Paris":5.2,"Amsterdam":2.2,"London":5.1,"Madrid":1.5,"Vienna":5.5,"Zurich":4.3},
{"d":"2020-12-30","Paris":6,"Amsterdam":2.5,"London":5.7,"Madrid":1.8,"Vienna":7.5,"Zurich":6},
{"d":"2020-12-31","Paris":6.9,"Amsterdam":2,"London":4.9,"Madrid":1,"Vienna":7.8,"Zurich":6},
{"d":"2021-01-01","Paris":4.3,"Amsterdam":1.5,"London":3.1,"Madrid":0.8,"Vienna":6,"Zurich":3.7},
{"d":"2021-01-02","Paris":1.9,"Amsterdam":1,"London":2.5,"Madrid":0.7,"Vienna":1,"Zurich":2.5},
{"d":"2021-01-03","Paris":1.3,"Amsterdam":1.3,"London":2,"Madrid":0.6,"Vienna":0.5,"Zurich":1.9},
{"d":"2021-01-04","Paris":1,"Amsterdam":1.6,"London":1.6,"Madrid":0.5,"Vienna":0.5,"Zurich":1.9},
{"d":"2021-01-05","Paris":0.8,"Amsterdam":2.5,"London":1.4,"Madrid":0.4,"Vienna":0.6,"Zurich":2},
{"d":"2021-01-06","Paris":0.7,"Amsterdam":3.1,"London":1.3,"Madrid":0.3,"Vienna":0.7,"Zurich":2.2},
{"d":"2021-01-07","Paris":0.9,"Amsterdam":1.8,"London":1.2,"Madrid":0.3,"Vienna":0.7,"Zurich":1.3},
{"d":"2021-01-08","Paris":1,"Amsterdam":1.3,"London":1.1,"Madrid":0.2,"Vienna":0.7,"Zurich":1},
{"d":"2021-01-09","Paris":1.2,"Amsterdam":1,"London":1.2,"Madrid":0.2,"Vienna":0.8,"Zurich":0.7},
{"d":"2021-01-10","Paris":1.3,"Amsterdam":1.2,"London":1.3,"Madrid":0.2,"Vienna":1,"Zurich":0.9},
{"d":"2021-01-11","Paris":1.5,"Amsterdam":1.3,"London":1.2,"Madrid":0.1,"Vienna":1.3,"Zurich":1},
{"d":"2021-01-12","Paris":1.6,"Amsterdam":1.3,"London":1.2,"Madrid":0.1,"Vienna":0.7,"Zurich":1.3},
{"d":"2021-01-13","Paris":1.6,"Amsterdam":1.4,"London":1.1,"Madrid":0.1,"Vienna":0.6,"Zurich":1.1},
{"d":"2021-01-14","Paris":1.6,"Amsterdam":1.6,"London":1.1,"Madrid":0.1,"Vienna":0.5,"Zurich":1},
{"d":"2021-01-15","Paris":1.1,"Amsterdam":0.7,"London":1,"Madrid":0.1,"Vienna":0.5,"Zurich":1.3},
{"d":"2021-01-16","Paris":0.7,"Amsterdam":0.9,"London":1,"Madrid":0.1,"Vienna":0.5,"Zurich":0.7},
{"d":"2021-01-17","Paris":0.9,"Amsterdam":1,"London":1.1,"Madrid":0.1,"Vienna":0.5,"Zurich":1},
{"d":"2021-01-18","Paris":1,"Amsterdam":0.9,"London":1.2,"Madrid":0.2,"Vienna":0.5,"Zurich":1.3},
{"d":"2021-01-19","Paris":1.2,"Amsterdam":0.8,"London":1.2,"Madrid":0.1,"Vienna":0.6,"Zurich":1.6},
{"d":"2021-01-20","Paris":1.3,"Amsterdam":0.7,"London":1,"Madrid":0.1,"Vienna":0.6,"Zurich":2},
{"d":"2021-01-21","Paris":1.3,"Amsterdam":0.7,"London":1,"Madrid":0.1,"Vienna":0.5,"Zurich":2.5},
{"d":"2021-01-22","Paris":1.3,"Amsterdam":0.7,"London":1.1,"Madrid":0.1,"Vienna":0.5,"Zurich":1},
{"d":"2021-01-23","Paris":1.3,"Amsterdam":0.7,"London":1.1,"Madrid":0.1,"Vienna":0.5,"Zurich":0.8},
{"d":"2021-01-24","Paris":1.3,"Amsterdam":0.7,"London":1,"Madrid":0.1,"Vienna":0.5,"Zurich":0.7},
{"d":"2021-01-25","Paris":1.6,"Amsterdam":0.7,"London":1,"Madrid":0.1,"Vienna":0.4,"Zurich":1},
{"d":"2021-01-26","Paris":1.9,"Amsterdam":0.7,"London":1,"Madrid":0.1,"Vienna":0.4,"Zurich":1.3},
{"d":"2021-01-27","Paris":1.5,"Amsterdam":0.7,"London":0.8,"Madrid":0.1,"Vienna":0.3,"Zurich":1.3},
{"d":"2021-01-28","Paris":1.3,"Amsterdam":0.7,"London":0.8,"Madrid":0.2,"Vienna":0.3,"Zurich":1.3},
{"d":"2021-01-29","Paris":1.3,"Amsterdam":0.7,"London":0.9,"Madrid":0.2,"Vienna":0.3,"Zurich":1},
{"d":"2021-01-30","Paris":1.1,"Amsterdam":0.7,"London":1,"Madrid":0.3,"Vienna":0.3,"Zurich":0.7},
{"d":"2021-01-31","Paris":1,"Amsterdam":0.7,"London":1,"Madrid":0.4,"Vienna":0.3,"Zurich":0.7},
{"d":"2021-02-01","Paris":1,"Amsterdam":0.7,"London":0.9,"Madrid":3.7,"Vienna":0.3,"Zurich":1},
{"d":"2021-02-02","Paris":1,"Amsterdam":0.7,"London":0.9,"Madrid":2.2,"Vienna":0.3,"Zurich":1.6},
{"d":"2021-02-03","Paris":1.1,"Amsterdam":0.8,"London":0.8,"Madrid":1.3,"Vienna":0.3,"Zurich":1.6},
{"d":"2021-02-04","Paris":1.3,"Amsterdam":0.9,"London":0.8,"Madrid":1,"Vienna":0.3,"Zurich":1.2},
{"d":"2021-02-05","Paris":1.1,"Amsterdam":1,"London":0.7,"Madrid":0.7,"Vienna":0.2,"Zurich":0.7},
{"d":"2021-02-06","Paris":1,"Amsterdam":0.9,"London":0.7,"Madrid":0.4,"Vienna":0.2,"Zurich":0.6}
]},
"transform":[{"fold":["Paris","Amsterdam","London","Madrid","Vienna","Zurich"],"as":["city","value"]}],
"mark":{"type":"line","strokeJoin":"round","strokeCap":"round"},
"encoding":{
"x":{"field":"d","type":"temporal","scale":{"type":"utc","domain":[1583539200000,1612569600000]},
"axis":{"values":[1583539200000,1586217600000,1588809600000,1591488000000,1594080000000,1596758400000,1599436800000,1602028800000,1604707200000,1607299200000,1609977600000],"labelExpr":"utcFormat(datum.value, '%d-%b')","grid":false,"ticks":false,"domain":false,"labelFontSize":31,"labelColor":"#595959","labelPadding":26,"labelFont":"Lato","title":null,"labelOverlap":false,"labelFlush":false}},
"y":{"field":"value","type":"quantitative","scale":{"domain":[0,80],"nice":false},
"axis":{"values":[0,10,20,30,40,50,60,70,80],"labelExpr":"datum.value + '%'","title":null,"grid":true,"gridColor":"#D9D9D9","gridWidth":2,"domain":false,"ticks":false,"labelFontSize":30,"labelColor":"#595959","labelPadding":34,"labelFont":"Lato"}},
"color":{"field":"city","type":"nominal","scale":{"domain":["Paris","Amsterdam","London","Madrid","Vienna","Zurich"],"range":["#48A4F4","#0B63B5","#2CE88A","#05055A","#EE7418","#FFFF00"]},
"legend":{"orient":"none","legendX":504,"legendY":-47,"direction":"horizontal","title":null,"symbolType":"stroke","symbolSize":3000,"labelFontSize":32,"labelColor":"#595959","labelFont":"Lato","columnPadding":24,"labelOffset":3,"labelLimit":400}},
"strokeWidth":{"field":"city","type":"nominal","scale":{"domain":["Paris","Amsterdam","London","Madrid","Vienna","Zurich"],"range":[5.5,5.5,5.5,5.5,8,5.5]},
"legend":{"orient":"none","legendX":504,"legendY":-47,"direction":"horizontal","title":null,"symbolType":"stroke","symbolSize":3000,"labelFontSize":32,"labelColor":"#595959","labelFont":"Lato","columnPadding":24,"labelOffset":3,"labelLimit":400}}
}
}
